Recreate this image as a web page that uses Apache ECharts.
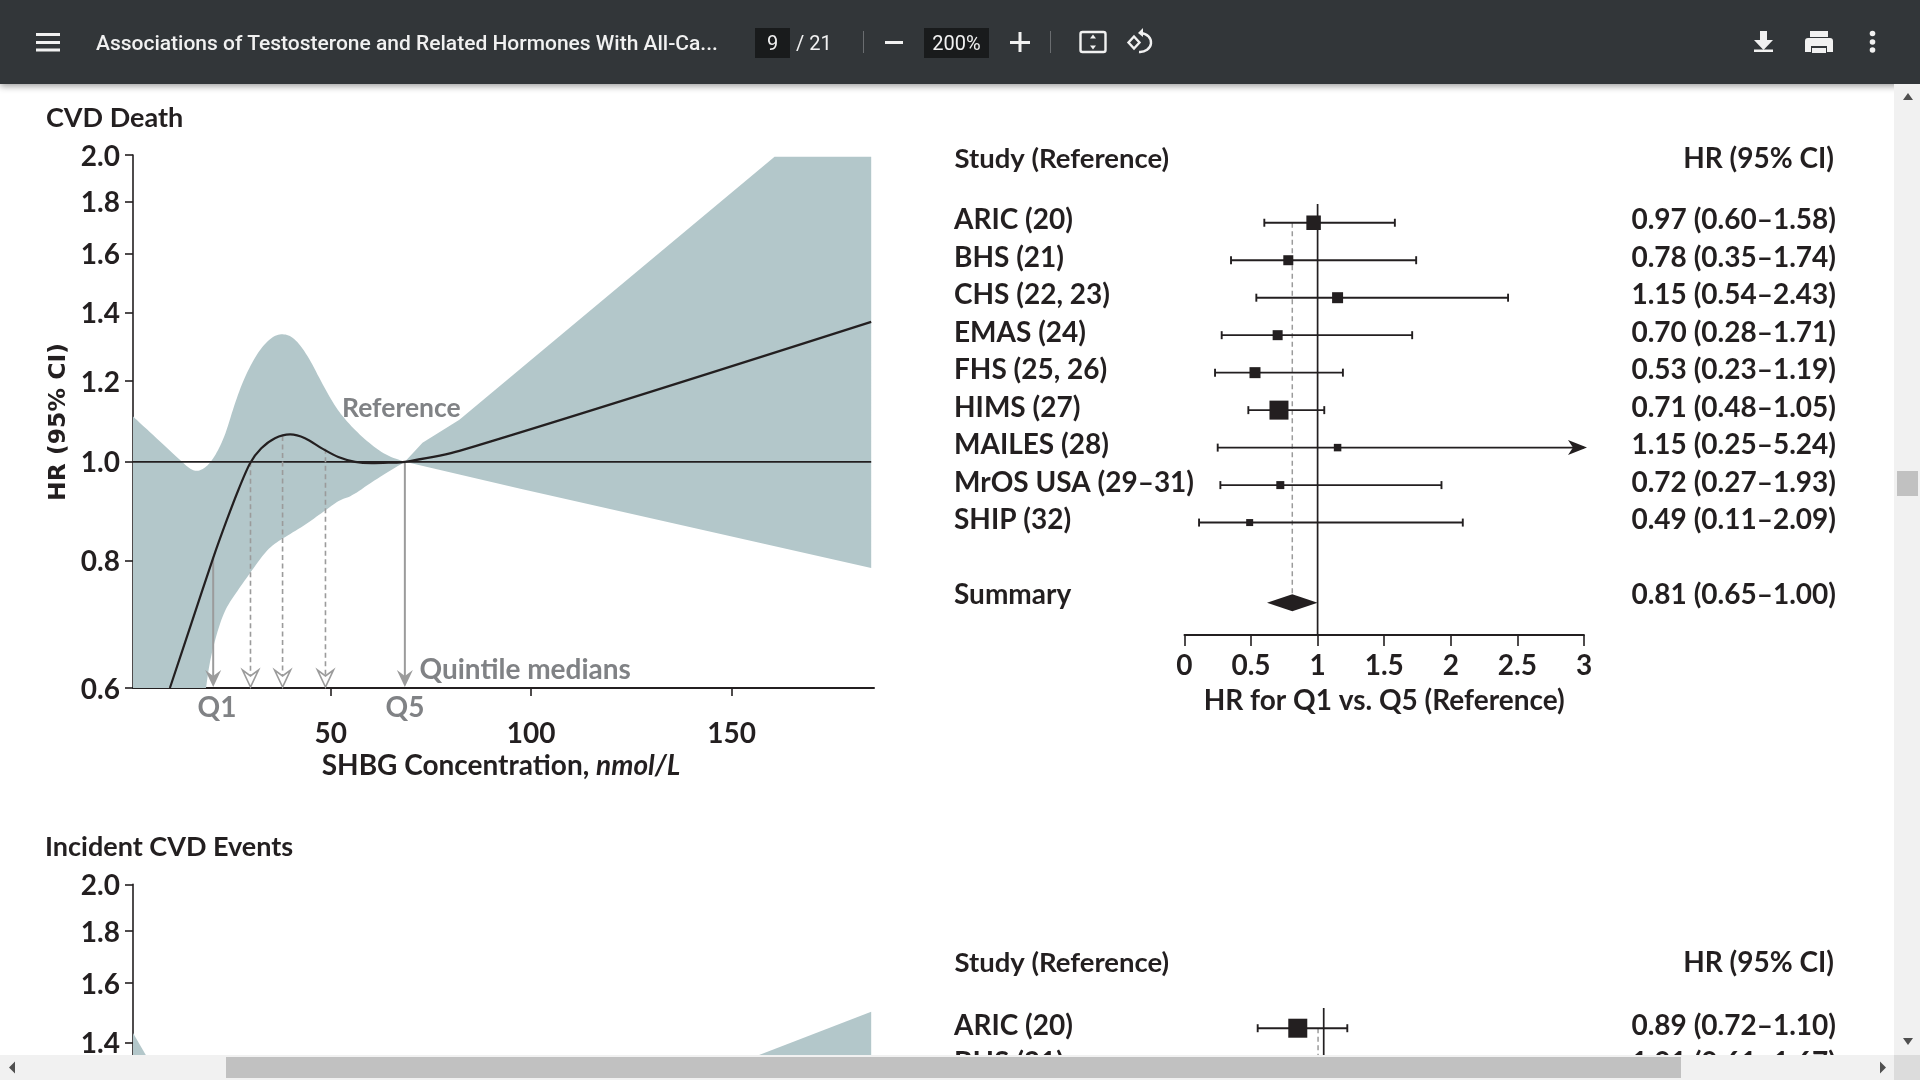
<!DOCTYPE html>
<html>
<head>
<meta charset="utf-8">
<title>Associations of Testosterone and Related Hormones</title>
<script src="https://cdn.jsdelivr.net/npm/echarts@6/dist/echarts.min.js"></script>
<style>
  html, body { margin: 0; padding: 0; width: 1920px; height: 1080px; overflow: hidden; background: #fff; }
  #chart { position: absolute; left: 0; top: 0; width: 1920px; height: 1080px; }
  #bar { position: absolute; left: 0; top: 0; width: 1920px; height: 84px; background: #323639; box-shadow: 0 2px 7px rgba(0,0,0,.4); color: #f1f1f1; font-family: Roboto; }
  #bar span { position: absolute; white-space: nowrap; line-height: 30px; top: 28px; }
  #bar svg { position: absolute; left: 0; top: 0; }
  .box { background: #191b1c; height: 30px; text-align: center; }
  .sb { position: absolute; }
</style>
</head>
<body>
<div id="chart"></div>
<div id="bar">
  <span style="left:96px;font-size:21px;font-weight:500">Associations of Testosterone and Related Hormones With All-Ca...</span>
  <span class="box" style="left:755px;width:35px;font-size:20px">9</span>
  <span style="left:796px;font-size:20px">/ 21</span>
  <span class="box" style="left:924px;width:65px;font-size:20px">200%</span>
  <svg width="1920" height="84" fill="#f1f1f1">
    <rect x="36" y="33" width="24" height="3"/><rect x="36" y="41" width="24" height="3"/><rect x="36" y="48.5" width="24" height="3"/>
    <rect x="863" y="31" width="1" height="22" fill="#6a6d70"/>
    <rect x="885" y="41" width="18" height="3"/>
    <rect x="1010" y="41" width="20" height="3"/><rect x="1018.5" y="32" width="3" height="20"/>
    <rect x="1050" y="31" width="1" height="22" fill="#6a6d70"/>
    <rect x="1080.5" y="32" width="25" height="20" rx="2" fill="none" stroke="#f1f1f1" stroke-width="2.4"/>
    <path d="M1093 34.5l-3 4h6zM1093 49.5l-3-4h6z"/>
    <path d="M1141 33a11 9.5 0 1 1-2 19" fill="none" stroke="#f1f1f1" stroke-width="2.4"/>
    <path d="M1143 28l-5 5 5 4z"/>
    <path d="M1134 36.5l5.5 6-5.5 6-5.5-6z" fill="none" stroke="#f1f1f1" stroke-width="2.4"/>
    <path d="M1760 31h7v9h6l-9.5 10-9.5-10h6z"/><rect x="1754" y="49.5" width="19" height="2.5"/>
    <path d="M1810 31h18v6h-18zM1808 38h22a3 3 0 0 1 3 3v11h-6v-6h-16v6h-6v-11a3 3 0 0 1 3-3zM1812 48h14v5h-14z"/>
    <circle cx="1872.5" cy="33.5" r="2.8"/><circle cx="1872.5" cy="42" r="2.8"/><circle cx="1872.5" cy="50" r="2.8"/>
  </svg>
</div>
<!-- viewer scrollbars, they sit on top of the clipped lower panels -->
<div class="sb" style="left:1894px;top:84px;width:26px;height:971px;background:#f1f1f1"></div>
<div class="sb" style="left:1897px;top:471px;width:21px;height:25px;background:#c1c1c1"></div>
<div class="sb" style="left:0;top:1055px;width:1894px;height:25px;background:#f1f1f1"></div>
<div class="sb" style="left:226px;top:1057px;width:1455px;height:21px;background:#c1c1c1"></div>
<div class="sb" style="left:1894px;top:1055px;width:26px;height:25px;background:#dcdcdc"></div>
<svg class="sb" style="left:0;top:0" width="1920" height="1080" fill="#505050">
  <path d="M1908 93l5 7h-10zM1908 1045l5-7h-10zM9 1067.5l6-6v12zM1886 1067.5l-6-6v12z"/>
</svg>
<script>
// upper panel, SHBG concentration vs HR: [x, HR]
const curve = [[9.9,0.6],[15.3,0.695],[20.7,0.805],[24.1,0.877],[27,0.939],[29.9,0.997],[32.7,1.031],[36.1,1.055],[39.9,1.064],[43.6,1.055],[47.8,1.031],[51.9,1.011],[56.1,1.0],[60.2,0.997],[64.4,0.998],[68.5,1.0],[82.1,1.025],[184.8,1.372]];
// band edges, split where the outline has a real corner
const upperLeft = [[0.7,1.108],[7,1.051],[12.8,1.001],[14.9,0.984],[16.8,0.978],[19.1,0.989],[21.1,1.012],[23.6,1.059],[26.1,1.142],[28.6,1.213],[31.9,1.283],[35.3,1.327],[38.2,1.337],[41.1,1.322],[44.4,1.269],[47.8,1.195],[51.1,1.133],[54.4,1.091],[58.6,1.051],[63.5,1.016],[68.5,1.0]];
const upperRight = [[68.5,1.0],[72.9,1.044],[82.1,1.1],[160.7,1.992],[184.8,1.992],[184.8,0.787],[97.3,0.941],[68.5,1.0]];
const lowerLeft = [[68.5,1.0],[61,0.96],[55.2,0.925],[52.3,0.918],[48.6,0.896],[43.6,0.867],[38.2,0.842],[34.4,0.823],[29.9,0.778],[26.6,0.746],[23.6,0.716],[21.6,0.679],[19.9,0.639],[18.9,0.6]];
const bandCorner = [0.7, 0.6];
const quintileX = [20.7, 30, 38, 48.7, 68.5];
const quintileTop = [0.805, 1.0, 1.06, 1.03, 1.0];
const hrTicks = [0.6, 0.8, 1.0, 1.2, 1.4, 1.6, 1.8, 2.0];
const xTicks = [50, 100, 150];

// lower panel, only its top edge is in view
const lowerTicks = [1.4, 1.6, 1.8, 2.0];
const lowerBandLeft = [[0.7,1.43],[6.8,1.3],[0.7,1.3]];
const lowerBandRight = [[143.9,1.3],[184.8,1.5],[184.8,1.3]];

// forest plot, CVD death
const studies = ['ARIC (20)', 'BHS (21)', 'CHS (22, 23)', 'EMAS (24)', 'FHS (25, 26)', 'HIMS (27)', 'MAILES (28)', 'MrOS USA (29–31)', 'SHIP (32)'];
const hrText = ['0.97 (0.60–1.58)', '0.78 (0.35–1.74)', '1.15 (0.54–2.43)', '0.70 (0.28–1.71)', '0.53 (0.23–1.19)', '0.71 (0.48–1.05)', '1.15 (0.25–5.24)', '0.72 (0.27–1.93)', '0.49 (0.11–2.09)'];
const hr = [0.97, 0.78, 1.15, 0.70, 0.53, 0.71, 1.15, 0.72, 0.49];
const lo = [0.60, 0.35, 0.54, 0.28, 0.23, 0.48, 0.25, 0.27, 0.11];
const hi = [1.58, 1.74, 2.43, 1.71, 1.19, 1.05, 5.24, 1.93, 2.09];
const weight = [14.5, 10, 11, 10, 11, 19, 7.5, 8, 7];
const summaryHr = 0.81;
const summaryLo = 0.62;
const summaryHi = 1.0;
const summaryText = '0.81 (0.65–1.00)';
const forestTicks = [0, 0.5, 1, 1.5, 2, 2.5, 3];

// forest plot, incident CVD events
const eventStudies = ['ARIC (20)', 'BHS (21)'];
const eventText = ['0.89 (0.72–1.10)', '1.01 (0.61–1.67)'];
const eventHr = [0.89, 1.01];
const eventLo = [0.72, 0.61];
const eventHi = [1.10, 1.67];
const eventWeight = [19, 10];
const eventSummaryHr = 0.976;

const FONT = 'Lato';
const INK = '#231f20';
const GRAY = '#808285';
const ARROW = '#9b9b9b';
const BAND = '#b3c7ca';
const SUMMARY_ROW = 10.14;

const chart = echarts.init(document.getElementById('chart'));

function label(size, color) {
  return { fontFamily: FONT, fontSize: size || 28, fontWeight: 'bold', color: color || INK };
}

function note(text, x, y, opts) {
  return {
    type: 'text', z: 50,
    style: Object.assign({ text, x, y, fontFamily: FONT, fontSize: 28, fontWeight: 'bold', fill: INK, textAlign: 'left', textVerticalAlign: 'middle' }, opts)
  };
}

function hrYAxis(grid, min, ticks) {
  return {
    type: 'log', logBase: 10, gridIndex: grid, min: min, max: 2,
    axisLine: { show: true, onZero: false, lineStyle: { color: INK, width: 1.6 } },
    axisTick: { show: true, length: 8, customValues: ticks, lineStyle: { color: INK, width: 1.6 } },
    // a short line box anchored by its top nudges the digits just below the tick
    axisLabel: Object.assign(label(), { margin: 13, verticalAlign: 'top', lineHeight: 3, customValues: ticks, formatter: v => v.toFixed(1) }),
    splitLine: { show: false }
  };
}

// corner cutting in screen space, ends stay pinned
function rounded(points) {
  let pts = points;
  for (let k = 0; k < 3; k++) {
    const out = [pts[0]];
    for (let i = 0; i < pts.length - 1; i++) {
      const a = pts[i], b = pts[i + 1];
      out.push([a[0] * 0.75 + b[0] * 0.25, a[1] * 0.75 + b[1] * 0.25]);
      out.push([a[0] * 0.25 + b[0] * 0.75, a[1] * 0.25 + b[1] * 0.75]);
    }
    out.push(pts[pts.length - 1]);
    pts = out;
  }
  return pts;
}

function bandSeries(parts, xi, yi) {
  return {
    type: 'custom', xAxisIndex: xi, yAxisIndex: yi, silent: true, z: 1, data: [parts[0].points[0]],
    encode: { x: 0, y: 1 },
    renderItem(params, api) {
      let pts = [];
      parts.forEach(part => {
        const px = part.points.map(p => api.coord(p));
        pts = pts.concat(part.curved ? rounded(px) : px);
      });
      return { type: 'polygon', shape: { points: pts }, style: { fill: BAND } };
    }
  };
}

function whiskers(los, his, xi, yi, xMax) {
  return {
    type: 'custom', xAxisIndex: xi, yAxisIndex: yi, silent: true, z: 5,
    data: los.map((v, i) => [v, his[i], i]),
    encode: { x: [0, 1], y: 2 },
    renderItem(params, api) {
      const a = api.coord([api.value(0), api.value(2)]);
      const over = api.value(1) > xMax;
      const b = api.coord([over ? xMax : api.value(1), api.value(2)]);
      const st = { stroke: INK, lineWidth: 1.9 };
      const kids = [
        { type: 'line', shape: { x1: a[0], y1: a[1], x2: b[0], y2: b[1] }, style: st },
        { type: 'line', shape: { x1: a[0], y1: a[1] - 4, x2: a[0], y2: a[1] + 4 }, style: st }
      ];
      if (over) {
        kids.push({ type: 'polygon', shape: { points: [[b[0] + 3, b[1]], [b[0] - 16, b[1] - 7.5], [b[0] - 11, b[1]], [b[0] - 16, b[1] + 7.5]] }, style: { fill: INK } });
      } else {
        kids.push({ type: 'line', shape: { x1: b[0], y1: b[1] - 4, x2: b[0], y2: b[1] + 4 }, style: st });
      }
      return { type: 'group', children: kids };
    }
  };
}

function squares(values, sizes, xi, yi) {
  return {
    type: 'scatter', xAxisIndex: xi, yAxisIndex: yi, silent: true, z: 6, symbol: 'rect',
    data: values.map((v, i) => [v, i, sizes[i]]),
    symbolSize: d => d[2],
    itemStyle: { color: INK, opacity: 1 }
  };
}

function vLine(x, y1, y2, xi, yi, dashed) {
  return {
    type: 'line', xAxisIndex: xi, yAxisIndex: yi, silent: true, showSymbol: false, symbol: 'none', z: dashed ? 3 : 4,
    data: [[x, y1], [x, y2]],
    lineStyle: dashed ? { color: ARROW, width: 1.5, type: [5, 3.5] } : { color: INK, width: 1.7 }
  };
}

function rowAxis(grid, min, max, rows, texts, position, margin) {
  return {
    type: 'value', gridIndex: grid, min: min, max: max, inverse: true, position: position,
    axisLine: { show: false }, axisTick: { show: false }, splitLine: { show: false },
    // same trick: row text sits a little above its whisker
    axisLabel: Object.assign(label(), {
      customValues: rows, margin: margin, align: position, verticalAlign: 'bottom', lineHeight: 5,
      formatter: v => texts[rows.indexOf(v)]
    })
  };
}

// quintile median arrows; 1st and 5th are solid with a filled head
const quintiles = {
  type: 'custom', xAxisIndex: 0, yAxisIndex: 0, silent: true, z: 4,
  data: quintileX.map((x, i) => [x, quintileTop[i], i]),
  encode: { x: 0, y: 1 },
  renderItem(params, api) {
    const top = api.coord([api.value(0), api.value(1)]);
    const tip = api.coord([api.value(0), 0.6]);
    const i = api.value(2);
    const solid = i === 0 || i === 4;
    const x = top[0];
    const line = { stroke: ARROW, lineWidth: solid ? 2 : 1.6 };
    if (!solid) line.lineDash = [5, 3.5];
    return {
      type: 'group', children: [
        { type: 'line', shape: { x1: x, y1: top[1], x2: x, y2: tip[1] - 12 }, style: line },
        {
          type: 'polygon',
          shape: { points: [[x, tip[1] - 1], [x - 8, tip[1] - 18], [x, tip[1] - 12], [x + 8, tip[1] - 18]] },
          style: solid ? { fill: ARROW } : { fill: '#fff', stroke: ARROW, lineWidth: 1.6 }
        }
      ]
    };
  }
};

const diamond = {
  type: 'custom', xAxisIndex: 1, yAxisIndex: 1, silent: true, z: 6,
  data: [[summaryLo, summaryHi, SUMMARY_ROW]],
  encode: { x: [0, 1], y: 2 },
  renderItem(params, api) {
    const a = api.coord([api.value(0), api.value(2)]);
    const b = api.coord([api.value(1), api.value(2)]);
    const m = (a[0] + b[0]) / 2;
    return { type: 'polygon', shape: { points: [[a[0], a[1]], [m, a[1] - 8.5], [b[0], a[1]], [m, a[1] + 8.5]] }, style: { fill: INK } };
  }
};

const option = {
  animation: false,
  backgroundColor: '#fff',
  textStyle: { fontFamily: FONT },
  grid: [
    { left: 133, top: 155, width: 741, height: 533 },
    { left: 1184.4, top: 204, width: 399.6, height: 431 },
    { left: 133, top: 884.4, width: 741, height: 190.7 },
    { left: 1205.8, top: 1008, width: 283, height: 67 }
  ],
  xAxis: [
    {
      type: 'value', gridIndex: 0, min: 0.7, max: 185.5,
      axisLine: { onZero: false, lineStyle: { color: INK, width: 2 } },
      axisTick: { show: true, length: 8, customValues: xTicks, lineStyle: { color: INK, width: 1.6 } },
      axisLabel: Object.assign(label(), { margin: 32, customValues: xTicks }),
      splitLine: { show: false },
      name: 'SHBG Concentration, {i|nmol/L}', nameLocation: 'middle', nameGap: 64,
      nameTextStyle: Object.assign(label(), { padding: [0, 5, 0, 0], rich: { i: Object.assign(label(), { fontStyle: 'italic' }) } })
    },
    {
      type: 'value', gridIndex: 1, min: 0, max: 3,
      axisLine: { onZero: false, lineStyle: { color: INK, width: 1.8 } },
      axisTick: { show: true, length: 11, customValues: forestTicks, lineStyle: { color: INK, width: 1.6 } },
      axisLabel: Object.assign(label(), { margin: 17, customValues: forestTicks, formatter: v => String(v) }),
      splitLine: { show: false },
      name: 'HR for Q1 vs. Q5 (Reference)', nameLocation: 'middle', nameGap: 52,
      nameTextStyle: label()
    },
    { type: 'value', gridIndex: 2, min: 0.7, max: 185.5, show: false },
    { type: 'value', gridIndex: 3, min: 0.5, max: 1.7, show: false }
  ],
  yAxis: [
    hrYAxis(0, 0.6, hrTicks),
    rowAxis(1, -0.5, 11, studies.map((s, i) => i).concat(10), studies.concat('Summary'), 'left', 230.4),
    rowAxis(1, -0.5, 11, studies.map((s, i) => i).concat(10), hrText.concat(summaryText), 'right', 252),
    hrYAxis(2, 1.3, lowerTicks),
    rowAxis(3, -0.54, 1.25, [0, 1], eventStudies, 'left', 251.8),
    rowAxis(3, -0.54, 1.25, [0, 1], eventText, 'right', 347.2)
  ],
  series: [
    bandSeries([
      { points: upperLeft, curved: true },
      { points: upperRight },
      { points: lowerLeft, curved: true },
      { points: [bandCorner] }
    ], 0, 0),
    {
      type: 'line', xAxisIndex: 0, yAxisIndex: 0, silent: true, symbol: 'none', z: 3,
      data: [[0.7, 1], [184.8, 1]], lineStyle: { color: INK, width: 1.8 }
    },
    {
      type: 'line', xAxisIndex: 0, yAxisIndex: 0, silent: true, symbol: 'none', z: 5, smooth: 0.3,
      data: curve, lineStyle: { color: INK, width: 2.2 }
    },
    quintiles,
    vLine(summaryHr, 0, SUMMARY_ROW - 0.15, 1, 1, true),
    vLine(1, -0.5, 11, 1, 1, false),
    whiskers(lo, hi, 1, 1, 3),
    squares(hr, weight, 1, 1),
    diamond,
    bandSeries([{ points: lowerBandLeft }], 2, 3),
    bandSeries([{ points: lowerBandRight }], 2, 3),
    vLine(eventSummaryHr, 0, 1.25, 3, 4, true),
    vLine(1, -0.54, 1.25, 3, 4, false),
    whiskers(eventLo, eventHi, 3, 4, 1.7),
    squares(eventHr, eventWeight, 3, 4)
  ],
  graphic: [
    note('CVD Death', 46, 118, { fontSize: 27 }),
    note('Incident CVD Events', 45, 847, { fontSize: 27 }),
    note('Reference', 342, 408, { fill: GRAY, fontSize: 26.5 }),
    note('Quintile medians', 419.5, 669.5, { fill: GRAY }),
    note('Q1', 217, 708, { fill: GRAY, textAlign: 'center' }),
    note('Q5', 405, 708, { fill: GRAY, textAlign: 'center' }),
    note('Study (Reference)', 954.5, 159, { fontSize: 27.5 }),
    note('HR (95% CI)', 1834, 159, { textAlign: 'right' }),
    note('Study (Reference)', 954.5, 963, { fontSize: 27.5 }),
    note('HR (95% CI)', 1834, 963, { textAlign: 'right' }),
    {
      type: 'text', z: 50, x: 59, y: 422, rotation: Math.PI / 2,
      style: { text: 'HR (95% CI)', fontFamily: '"DejaVu Sans"', fontSize: 23.5, fontWeight: 'bold', fill: INK, textAlign: 'center', textVerticalAlign: 'middle' }
    }
  ]
};

chart.setOption(option);
</script>
</body>
</html>
